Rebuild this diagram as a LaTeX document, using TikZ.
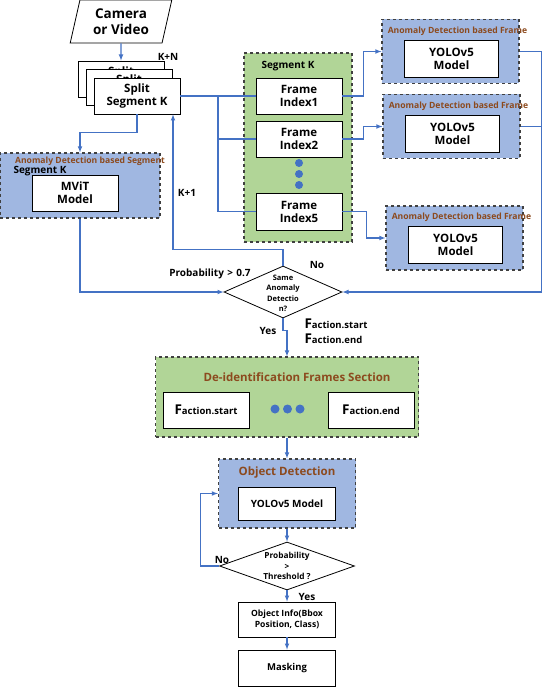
\documentclass[tikz,border=0pt]{standalone}
\usepackage{fontspec}
\setmainfont{Open Sans}
\usetikzlibrary{shapes.geometric}
\definecolor{blueF}{HTML}{A0B7E1}
\definecolor{greenF}{HTML}{B1D597}
\definecolor{brownT}{HTML}{8C4A1E}
\definecolor{lineB}{HTML}{4472C4}
\newcommand\Fsub[1]{{\fontsize{13.5}{14}\selectfont F}{\fontsize{9.5}{10}\selectfont #1}}
\begin{document}
\begin{tikzpicture}
  [x=1pt,y=-1pt,
  box/.style={draw, fill=white, thick, align=center, inner sep=0pt, font=\bfseries\fontsize{11.5}{13}\selectfont},
  grp/.style={draw=black!75, dashed, line width=1.1pt, inner sep=0pt},
  bluegrp/.style={grp, fill=blueF},
  greengrp/.style={grp, fill=greenF},
  ttl/.style={text=brownT, font=\bfseries\fontsize{8.6}{10}\selectfont},
  lbl/.style={font=\bfseries\fontsize{10}{11}\selectfont},
  decision/.style={draw, diamond, thick, fill=white, inner sep=0pt},
  dot/.style={circle, fill=lineB, inner sep=0pt, minimum size=8pt},
  link/.style={draw=lineB, line width=1.1pt},
  flow/.style={link, -latex}]
\useasboundingbox (0,0) rectangle (543,687);
% input and split segments
\node (cam)[draw, thick, trapezium, trapezium left angle=77, trapezium right angle=103,
  trapezium stretches=true, minimum width=102, minimum height=43, align=center,
  font=\bfseries\fontsize{13.5}{15.5}\selectfont] at (121,21.5) {Camera\\or Video};
\node (splitN)[box, minimum width=86, minimum height=36] at (121,79) {Split\\Segment K};
\node (splitM)[box, minimum width=86, minimum height=36] at (129,87) {Split\\Segment K};
\node (split)[box, minimum width=86, minimum height=36] at (137,96) {Split\\Segment K};
\node (kn)[lbl] at (168,57) {K+N};
% segment model
\node (mvitg)[bluegrp, minimum width=160, minimum height=65] at (80,185.5) {};
\node (mvitt)[ttl] at (90,161) {Anomaly Detection based Segment};
\node (mvitk)[lbl, anchor=west] at (10,171.5) {Segment K};
\node (mvit)[box, minimum width=86, minimum height=36] at (75,193) {MViT\\Model};
% frames of segment K
\node (segk)[greengrp, minimum width=108, minimum height=189] at (298,147.5) {};
\node (segkt)[lbl] at (288,66) {Segment K};
\node (f1)[box, minimum width=86, minimum height=36] at (299,96) {Frame\\Index1};
\node (f2)[box, minimum width=86, minimum height=36] at (299,139) {Frame\\Index2};
\node (f5)[box, minimum width=86, minimum height=37] at (299,211.5) {Frame\\Index5};
\foreach \n/\y in {a/163,b/174,c/185}
  \node (fdot\n)[dot] at (299,\y) {};
\foreach \n/\x/\y in {1/450.5/51.5,2/451.5/126.5,3/454.5/238}{
  \node (yg\n)[bluegrp, minimum width=137, minimum height=64] at (\x,\y) {};
  \node (yt\n)[ttl] at (\x+7,\y-20.5) {Anomaly Detection based Frame};
  \node (ym\n)[box, minimum width=94, minimum height=37] at (\x+1,\y+7) {YOLOv5\\Model};
}
% decision
\node (same)[decision, minimum width=118, minimum height=52] at (283,292) {};
\node (samet)[align=center, font=\bfseries\fontsize{7.5}{10.5}\selectfont] at (283,293.5) {Same\\Anomaly\\Detectio\\n?};
\node (p07)[lbl] at (210,274) {Probability\,\,>\,\,0.7};
\node (no1)[lbl] at (317,265) {No};
\node (k1)[lbl] at (187,193) {K+1};
\node (yes1)[lbl] at (268,331) {Yes};
\node (fa)[anchor=west, font=\bfseries] at (301,324) {\Fsub{action.start}};
\node (fb)[anchor=west, font=\bfseries] at (301,339) {\Fsub{action.end}};
% de-identification
\node (deid)[greengrp, minimum width=263, minimum height=80] at (287,397) {};
\node (deidt)[ttl, font=\bfseries\fontsize{11.5}{13}\selectfont] at (297,377) {De-identification Frames Section};
\node (fs)[box, minimum width=86, minimum height=36] at (206,410) {\Fsub{action.start}};
\node (fe)[box, minimum width=86, minimum height=36] at (371,410) {\Fsub{action.end}};
\foreach \n/\x in {a/275,b/287.5,c/300}
  \node (ddot\n)[dot, minimum size=9pt] at (\x,409) {};
% object detection
\node (objg)[bluegrp, minimum width=137, minimum height=69] at (287,493.5) {};
\node (objt)[ttl, font=\bfseries\fontsize{11.5}{13}\selectfont] at (287,473) {Object Detection};
\node (yolo)[box, minimum width=97, minimum height=33, font=\bfseries\fontsize{10}{11}\selectfont] at (287,503.5) {YOLOv5 Model};
\node (thr)[decision, minimum width=135, minimum height=48] at (287,566) {};
\node (thrt)[align=center, font=\bfseries\fontsize{8.3}{10.5}\selectfont] at (287,566) {Probability\\>\\Threshold ?};
\node (info)[box, minimum width=97, minimum height=35, font=\bfseries\fontsize{8.6}{11.5}\selectfont] at (287,619.5) {Object Info(Bbox\\Position, Class)};
\node (mask)[box, minimum width=97, minimum height=36, font=\bfseries\fontsize{9.5}{11}\selectfont] at (287,668) {Masking};
\node (no2)[lbl] at (222,560) {No};
\node (yes2)[lbl] at (307,597) {Yes};
% connectors
\coordinate (jn) at (218,96);
\draw[flow] (cam) -- (splitN);
\draw[flow] (split.south) -- ++(0,18) -| (mvitg.north);
\draw[link] (split.east) -- (f1.west);
\draw[link] (jn) |- (f2.west);
\draw[link] (jn) |- (f5.west);
\draw[flow] (f1.east) -- ++(21,0) |- (yg1.west);
\draw[flow] (f2.east) -- ++(21,0) |- (yg2.west);
\draw[flow] (f5.east) -- ++(24,0) |- (yg3.west);
\draw[flow] (yg1.east) -- ++(22,0) |- (same.east);
\draw[link] (yg2.east) -- ++(21,0);
\draw[flow] (mvitg.south) |- (same.west);
\draw[flow] (same.north) -- ++(0,-16) -| ([xshift=36pt]split.south);
\draw[flow] (same.south) -- ++(0,12) -| (deid.north);
\draw[flow] (deid) -- (objg);
\draw[flow] (objg) -- (thr);
\draw[flow] (thr.west) -- ++(-19,0) |- (objg.west);
\draw[flow] (thr) -- (info);
\draw[flow] (info) -- (mask);
\end{tikzpicture}
\end{document}
